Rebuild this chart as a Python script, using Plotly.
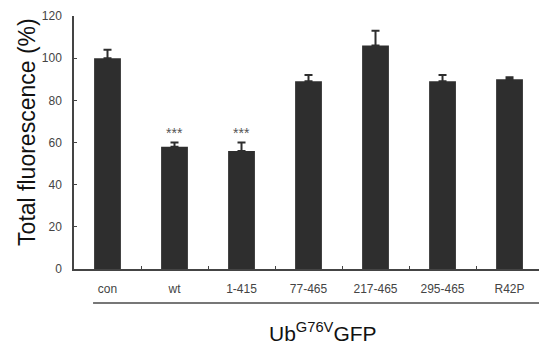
import plotly.graph_objects as go

categories = ["con", "wt", "1-415", "77-465", "217-465", "295-465", "R42P"]
values = [100, 58, 56, 89, 106, 89, 90]
errors = [4, 2, 4, 3, 7, 3, 1]
stars = ["", "***", "***", "", "", "", ""]
y_ticks = [0, 20, 40, 60, 80, 100, 120]

FONT = "Liberation Sans, Arial, sans-serif"
AX = "#444444"

fig = go.Figure()
fig.add_trace(go.Bar(
    x=categories, y=values, width=0.4,
    marker=dict(color="#2e2e2e", line=dict(width=0)),
    error_y=dict(type="data", array=errors, arrayminus=[0]*len(errors),
                 symmetric=False, color="#2e2e2e", thickness=2, width=4),
))

for c, v, e, s in zip(categories, values, errors, stars):
    if s:
        fig.add_annotation(x=c, y=v + e, text=s, showarrow=False, yanchor="bottom",
                           yshift=0, font=dict(family=FONT, size=14, color="#555555"))

fig.add_annotation(xref="paper", yref="paper", x=0.535, y=-0.25, text="Ub<sup>G76V</sup>GFP",
                   showarrow=False, xanchor="center", yanchor="middle",
                   font=dict(family=FONT, size=21, color="#111111"))
fig.add_annotation(xref="paper", yref="paper", x=-0.1, y=0.54, text="Total fluorescence (%)",
                   textangle=-90, showarrow=False, xanchor="center", yanchor="middle",
                   font=dict(family=FONT, size=23, color="#111111"))
fig.add_shape(type="line", xref="paper", yref="paper", x0=0.041, x1=1.0, y0=-0.134, y1=-0.134,
              line=dict(color="#777777", width=2))

fig.update_layout(
    width=539, height=346,
    margin=dict(l=74, r=0, t=16, b=77),
    paper_bgcolor="white", plot_bgcolor="white",
    showlegend=False, bargap=0.6,
    font=dict(family=FONT, color="#444444"),
)
fig.update_xaxes(
    range=[-0.5, 6.44], showline=True, linecolor=AX, linewidth=1.5,
    ticks="inside", ticklen=3, tickcolor=AX, tickson="boundaries",
    tickfont=dict(family=FONT, size=12, color="#444444"), ticklabelstandoff=8,
    showgrid=False, zeroline=False,
)
fig.update_yaxes(
    range=[0, 120], tickvals=y_ticks, showline=True, linecolor=AX, linewidth=1.5,
    ticks="inside", ticklen=3, tickcolor=AX,
    tickfont=dict(family=FONT, size=12, color="#444444"), ticklabelstandoff=8,
    showgrid=False, zeroline=False,
)

fig.write_html("out.html", config={"displayModeBar": False},
               post_script="document.body.style.margin='0';document.body.style.overflow='hidden';")
